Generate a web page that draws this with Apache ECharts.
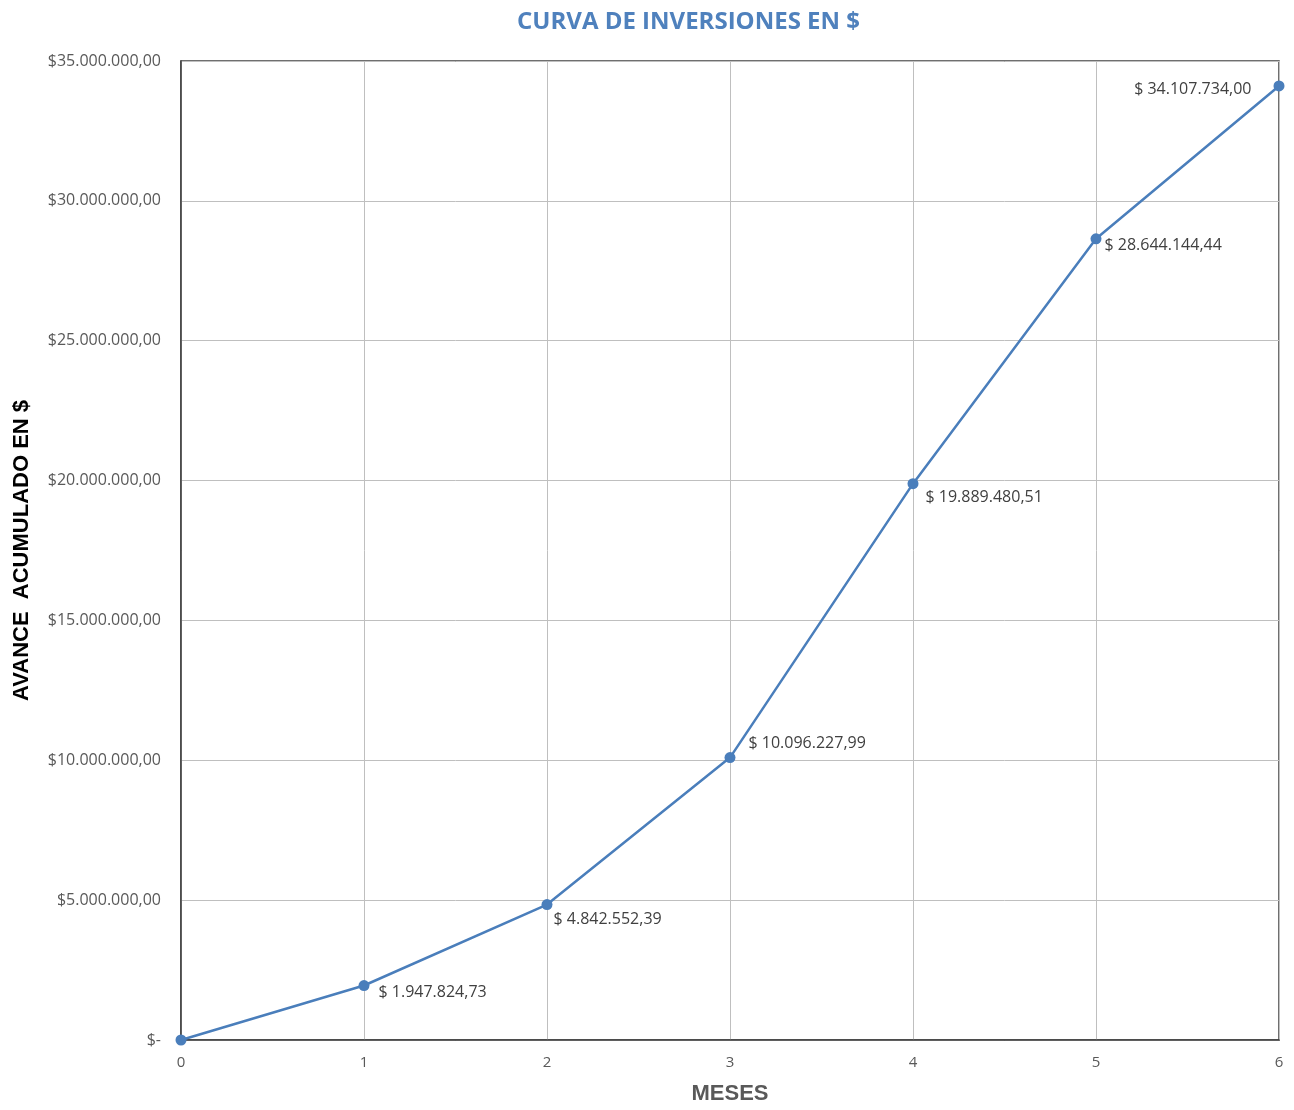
<!DOCTYPE html>
<html>
<head>
<meta charset="utf-8">
<title>Curva de inversiones</title>
<script src="https://cdn.jsdelivr.net/npm/echarts@6/dist/echarts.min.js"></script>
<style>
  html, body { margin: 0; padding: 0; background: #fff; }
  #chart { width: 1294px; height: 1110px; }
</style>
</head>
<body>
<div id="chart"></div>
<script>
  // datos
  const meses = [0, 1, 2, 3, 4, 5, 6]
  const avance = [0, 1947824.73, 4842552.39, 10096227.99, 19889480.51, 28644144.44, 34107734.00]
  const yMax = 35000000
  const yStep = 5000000

  // ubicacion de cada etiqueta respecto a su punto
  const labelLayout = [
    null,
    { position: 'right', offset: [4, 7] },
    { position: 'right', offset: [-4, 15] },
    { position: 'right', offset: [8, -14] },
    { position: 'right', offset: [2, 14] },
    { position: 'right', offset: [-2, 7] },
    { position: 'left', offset: [-17, 3] }
  ]

  function miles (n, dec) {
    let parts = n.toFixed(dec).split('.')
    let ent = parts[0].replace(/\B(?=(\d{3})+(?!\d))/g, '.')
    return dec ? ent + ',' + parts[1] : ent
  }

  const font = '"Open Sans", "Liberation Sans", sans-serif'

  let points = meses.map((m, i) => {
    let item = { value: [m, avance[i]] }
    if (labelLayout[i]) {
      item.label = { show: true, position: labelLayout[i].position, offset: labelLayout[i].offset }
    } else {
      item.label = { show: false }
    }
    return item
  })

  let chart = echarts.init(document.getElementById('chart'))
  chart.setOption({
    animation: false,
    title: {
      text: 'CURVA DE INVERSIONES EN $',
      left: 512,
      top: 5,
      textStyle: { color: '#4f81bd', fontSize: 24, fontWeight: 'bold', fontFamily: font }
    },
    grid: {
      left: 181, right: 15, top: 61, bottom: 64,
      show: true,
      borderColor: '#404040',
      borderWidth: 1.5
    },
    xAxis: {
      type: 'value',
      min: 0, max: 6, interval: 1,
      name: 'MESES',
      nameLocation: 'middle',
      nameGap: 43,
      nameTextStyle: { color: '#595959', fontSize: 22, fontWeight: 'bold', fontFamily: 'Liberation Sans, Arial, sans-serif' },
      axisLine: { show: true, lineStyle: { color: '#404040', width: 1.5 } },
      axisTick: { show: false },
      axisLabel: { color: '#595959', fontSize: 15, fontFamily: font, margin: 15 },
      splitLine: { show: true, lineStyle: { color: '#bfbfbf', width: 1 } }
    },
    yAxis: {
      type: 'value',
      min: 0, max: yMax, interval: yStep,
      name: 'AVANCE  ACUMULADO EN $',
      nameLocation: 'middle',
      nameGap: 148,
      nameTextStyle: { color: '#000', fontSize: 22, fontWeight: 'bold', fontFamily: 'Liberation Sans, Arial, sans-serif' },
      axisLine: { show: true, lineStyle: { color: '#404040', width: 1.5 } },
      axisTick: { show: false },
      axisLabel: {
        color: '#595959', fontSize: 16, fontFamily: font, margin: 20,
        formatter: v => v === 0 ? '$-' : '$' + miles(v, 2)
      },
      splitLine: { show: true, lineStyle: { color: '#bfbfbf', width: 1 } }
    },
    series: [{
      type: 'line',
      data: points,
      symbol: 'circle',
      symbolSize: 11,
      lineStyle: { color: '#4a7ebb', width: 2.5 },
      itemStyle: { color: '#4a7ebb' },
      label: {
        color: '#404040', fontSize: 16, fontFamily: font,
        formatter: p => '$ ' + miles(p.value[1], 2)
      }
    }]
  })
</script>
</body>
</html>
